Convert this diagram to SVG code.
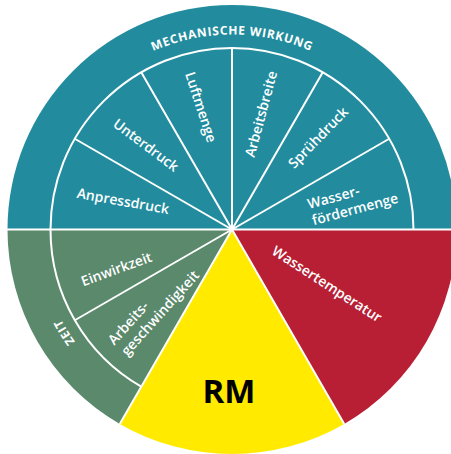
<svg xmlns="http://www.w3.org/2000/svg" xmlns:xlink="http://www.w3.org/1999/xlink" width="451" height="454" viewBox="0 0 451 454">
  <defs>
    <style>
      .teal { fill: #228c9e; }
      .green { fill: #5a896c; }
      .red { fill: #b81f35; }
      .yellow { fill: #ffea00; }
      .sep { fill: none; stroke: #ffffff; stroke-width: 2; }
      .lbl { font-family: "Open Sans", "Noto Sans", "DejaVu Sans", sans-serif; font-weight: 600; font-size: 14px; fill: #ffffff; }
      .ring { font-family: "Open Sans", "Noto Sans", "DejaVu Sans", sans-serif; font-weight: 700; font-size: 12px; fill: #ffffff; letter-spacing: 0.7px; }
      .big { font-family: "Open Sans", "Noto Sans", "DejaVu Sans", sans-serif; font-weight: 700; font-size: 33px; fill: #000000; }
    </style>
    <!-- baselines for the ring captions, both run clockwise -->
    <path id="arc-top" d="M37,229.5 A195,195 0 0 1 427,229.5"/>
    <path id="arc-zeit" d="M170.8,412.5 A193,193 0 0 1 41.1,201"/>
  </defs>

  <!-- wheel sectors: centre (232,229.5), radius 224.5 -->
  <g id="mechanische-wirkung">
    <path class="teal" d="M7.5,229.5 A224.5,224.5 0 0 1 456.5,229.5 Z"/>
    <text class="ring" text-anchor="middle"><textPath xlink:href="#arc-top" href="#arc-top" startOffset="50%">MECHANISCHE WIRKUNG</textPath></text>
  </g>

  <g id="wassertemperatur">
    <path class="red" d="M232,229.5 L456.5,229.5 A224.5,224.5 0 0 1 344.25,423.9 Z"/>
    <text class="lbl" text-anchor="middle" transform="translate(327,284) rotate(33)" y="5">Wassertemperatur</text>
  </g>

  <g id="rm">
    <path class="yellow" d="M232,229.5 L344.25,423.9 A224.5,224.5 0 0 1 119.75,423.9 Z"/>
    <text class="big" text-anchor="middle" x="229" y="403">RM</text>
  </g>

  <g id="zeit">
    <path class="green" d="M232,229.5 L119.75,423.9 A224.5,224.5 0 0 1 7.5,229.5 Z"/>
    <text class="ring" text-anchor="middle"><textPath xlink:href="#arc-zeit" href="#arc-zeit" startOffset="50%">ZEIT</textPath></text>
  </g>

  <!-- white dividers between sectors and sub-sectors -->
  <g id="connectors">
    <line class="sep" x1="0" y1="229.5" x2="451" y2="229.5"/>
    <line class="sep" x1="232" y1="229.5" x2="344.25" y2="423.9"/>
    <line class="sep" x1="232" y1="229.5" x2="119.75" y2="423.9"/>
    <path class="sep" d="M50.5,229.5 A181.5,181.5 0 0 1 413.5,229.5"/>
    <path class="sep" d="M141.25,386.7 A181.5,181.5 0 0 1 50.5,229.5"/>
    <line class="sep" x1="232" y1="229.5" x2="74.8" y2="138.75"/>
    <line class="sep" x1="232" y1="229.5" x2="141.25" y2="72.3"/>
    <line class="sep" x1="232" y1="229.5" x2="232" y2="48"/>
    <line class="sep" x1="232" y1="229.5" x2="322.75" y2="72.3"/>
    <line class="sep" x1="232" y1="229.5" x2="389.2" y2="138.75"/>
    <line class="sep" x1="232" y1="229.5" x2="74.8" y2="320.25"/>
  </g>

  <!-- sub-sectors of the mechanical ring -->
  <g id="anpressdruck">
    <text class="lbl" text-anchor="middle" transform="translate(123,201) rotate(10)" y="5">Anpressdruck</text>
  </g>
  <g id="unterdruck">
    <text class="lbl" text-anchor="middle" transform="translate(146,145) rotate(37)" y="5">Unterdruck</text>
  </g>
  <g id="luftmenge">
    <text class="lbl" text-anchor="middle" transform="translate(201,107) rotate(72)" y="5">Luftmenge</text>
  </g>
  <g id="arbeitsbreite">
    <text class="lbl" text-anchor="middle" transform="translate(261,114) rotate(-75)" y="5">Arbeitsbreite</text>
  </g>
  <g id="spruehdruck">
    <text class="lbl" text-anchor="middle" transform="translate(318,137.5) rotate(-46)" y="5">Sprühdruck</text>
  </g>
  <g id="wasserfoerdermenge">
    <g transform="translate(355,209) rotate(-15)">
      <text class="lbl" x="-44.5" y="-12">Wasser-</text>
      <text class="lbl" text-anchor="middle" y="5">fördermenge</text>
    </g>
  </g>

  <!-- sub-sectors of the time ring -->
  <g id="einwirkzeit">
    <text class="lbl" text-anchor="middle" transform="translate(116.5,269) rotate(-20)" y="5">Einwirkzeit</text>
  </g>
  <g id="arbeitsgeschwindigkeit">
    <g transform="translate(160,313) rotate(-48)">
      <text class="lbl" x="-55" y="-12">Arbeits-</text>
      <text class="lbl" text-anchor="middle" y="5">geschwindigkeit</text>
    </g>
  </g>
</svg>
